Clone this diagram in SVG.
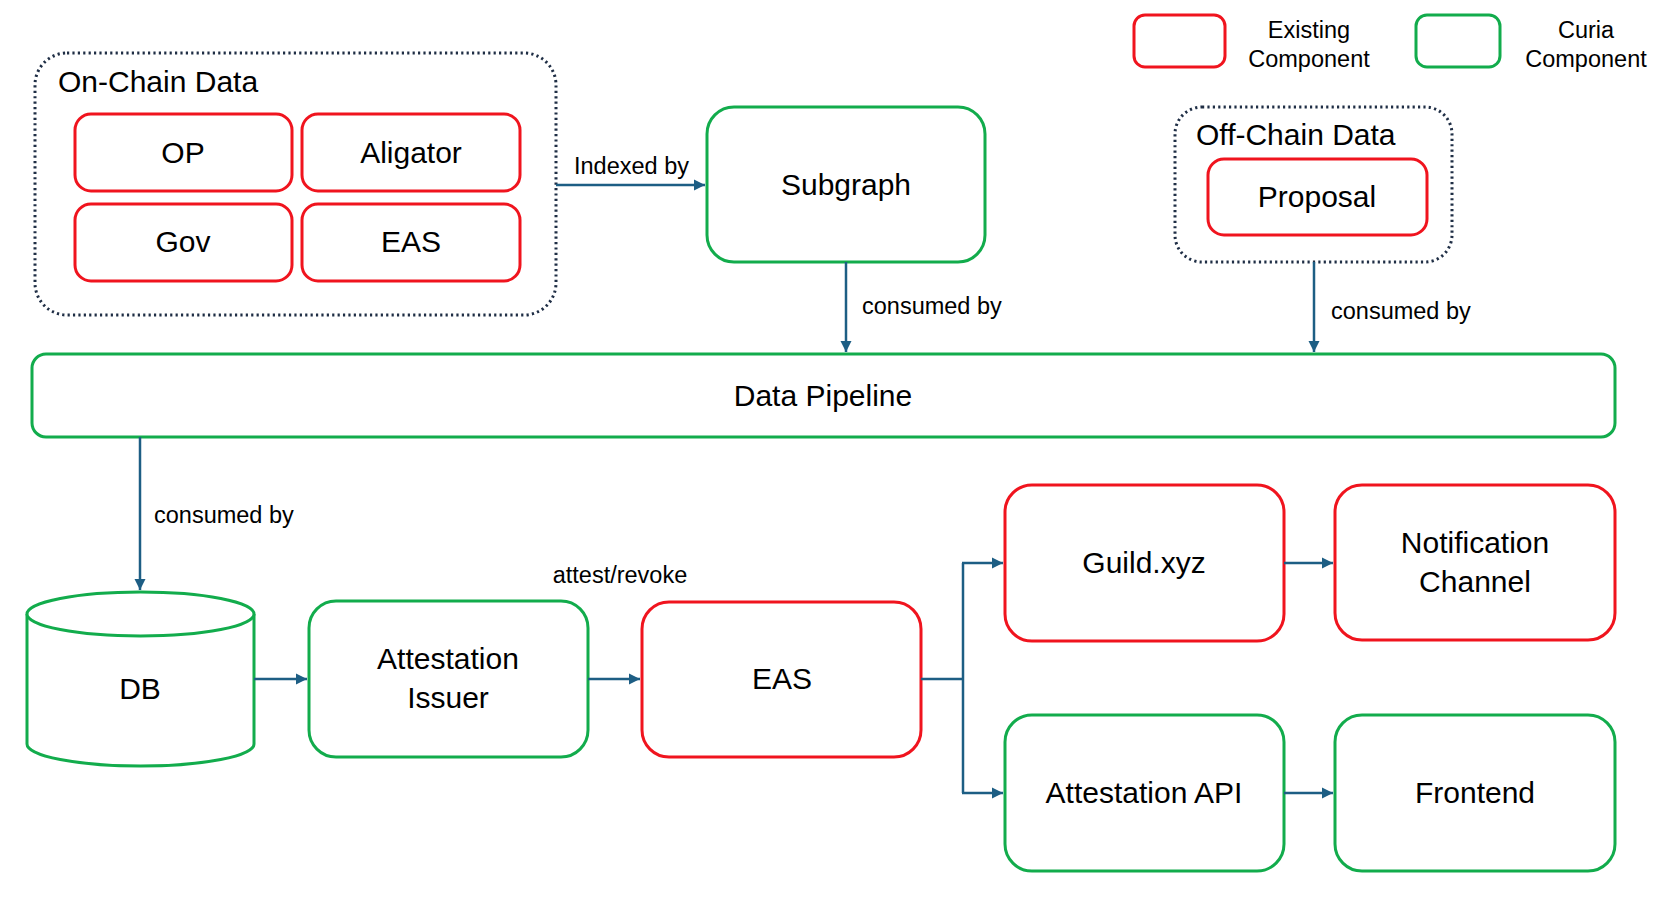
<svg xmlns="http://www.w3.org/2000/svg" width="1670" height="920" viewBox="0 0 1670 920">
<style>
.red{fill:#fff;stroke:#F0141E;stroke-width:3}
.green{fill:#fff;stroke:#12AC4C;stroke-width:3}
.dot{fill:none;stroke:#1F2E45;stroke-width:3;stroke-dasharray:2.2 3.2}
.lbl{font-family:"Liberation Sans",Arial,sans-serif;font-size:30px;fill:#000;text-anchor:middle}
.ttl{font-family:"Liberation Sans",Arial,sans-serif;font-size:30px;fill:#000}
.sm{font-family:"Liberation Sans",Arial,sans-serif;font-size:23.5px;fill:#000}
.lg{font-family:"Liberation Sans",Arial,sans-serif;font-size:23.5px;fill:#000;text-anchor:middle}
.con{fill:none;stroke:#1D5E84;stroke-width:2.5}
</style>
<defs>
<marker id="arr" viewBox="0 0 10 10" refX="10" refY="5" markerWidth="4.5" markerHeight="4.5" markerUnits="strokeWidth" orient="auto">
<path d="M0,0 L10,5 L0,10 z" fill="#1D5E84"/>
</marker>
</defs>
<rect width="1670" height="920" fill="#fff"/>

<g id="legend">
<rect class="red" x="1134" y="15" width="91" height="52" rx="11"/>
<text class="lg" x="1309" y="38">Existing</text>
<text class="lg" x="1309" y="67">Component</text>
<rect class="green" x="1416" y="15" width="84" height="52" rx="11"/>
<text class="lg" x="1586" y="38">Curia</text>
<text class="lg" x="1586" y="67">Component</text>
</g>

<g id="onchain">
<rect class="dot" x="35" y="53" width="521" height="262" rx="32"/>
<text class="ttl" x="58" y="92">On-Chain Data</text>
</g>
<g id="op"><rect class="red" x="75" y="114" width="217" height="77" rx="16"/><text class="lbl" x="183" y="163">OP</text></g>
<g id="aligator"><rect class="red" x="302" y="114" width="218" height="77" rx="16"/><text class="lbl" x="411" y="163">Aligator</text></g>
<g id="gov"><rect class="red" x="75" y="204" width="217" height="77" rx="16"/><text class="lbl" x="183" y="252">Gov</text></g>
<g id="eas-onchain"><rect class="red" x="302" y="204" width="218" height="77" rx="16"/><text class="lbl" x="411" y="252">EAS</text></g>

<g id="subgraph"><rect class="green" x="707" y="107" width="278" height="155" rx="27"/><text class="lbl" x="846" y="195">Subgraph</text></g>

<g id="offchain">
<rect class="dot" x="1175" y="107" width="277" height="155" rx="27"/>
<text class="ttl" x="1196" y="145">Off-Chain Data</text>
</g>
<g id="proposal"><rect class="red" x="1208" y="159" width="219" height="76" rx="16"/><text class="lbl" x="1317" y="207">Proposal</text></g>

<g id="pipeline"><rect class="green" x="32" y="354" width="1583" height="83" rx="14"/><text class="lbl" x="823" y="406">Data Pipeline</text></g>

<g id="db">
<path class="green" d="M27,614 L27,744 A113.5,22 0 0 0 254,744 L254,614"/>
<ellipse class="green" cx="140.5" cy="614" rx="113.5" ry="22"/>
<text class="lbl" x="140" y="699">DB</text>
</g>

<g id="issuer"><rect class="green" x="309" y="601" width="279" height="156" rx="27"/><text class="lbl" x="448" y="669">Attestation</text><text class="lbl" x="448" y="708">Issuer</text></g>
<g id="eas"><rect class="red" x="642" y="602" width="279" height="155" rx="27"/><text class="lbl" x="782" y="689">EAS</text></g>
<g id="guild"><rect class="red" x="1005" y="485" width="279" height="156" rx="27"/><text class="lbl" x="1144" y="573">Guild.xyz</text></g>
<g id="notification"><rect class="red" x="1335" y="485" width="280" height="155" rx="27"/><text class="lbl" x="1475" y="553">Notification</text><text class="lbl" x="1475" y="592">Channel</text></g>
<g id="api"><rect class="green" x="1005" y="715" width="279" height="156" rx="27"/><text class="lbl" x="1144" y="803">Attestation API</text></g>
<g id="frontend"><rect class="green" x="1335" y="715" width="280" height="156" rx="27"/><text class="lbl" x="1475" y="803">Frontend</text></g>

<g id="connectors">
<path class="con" d="M556,185 L705,185" marker-end="url(#arr)"/>
<text class="sm" x="574" y="174">Indexed by</text>
<path class="con" d="M846,262 L846,352" marker-end="url(#arr)"/>
<text class="sm" x="862" y="314">consumed by</text>
<path class="con" d="M1314,262 L1314,352" marker-end="url(#arr)"/>
<text class="sm" x="1331" y="319">consumed by</text>
<path class="con" d="M140,437 L140,590" marker-end="url(#arr)"/>
<text class="sm" x="154" y="523">consumed by</text>
<path class="con" d="M254,679 L307,679" marker-end="url(#arr)"/>
<path class="con" d="M588,679 L640,679" marker-end="url(#arr)"/>
<text class="sm" x="620" y="583" text-anchor="middle">attest/revoke</text>
<path class="con" d="M921,679 L963,679"/>
<path class="con" d="M963,563 L963,793"/>
<path class="con" d="M962,563 L1003,563" marker-end="url(#arr)"/>
<path class="con" d="M962,793 L1003,793" marker-end="url(#arr)"/>
<path class="con" d="M1284,563 L1333,563" marker-end="url(#arr)"/>
<path class="con" d="M1284,793 L1333,793" marker-end="url(#arr)"/>
</g>
</svg>
